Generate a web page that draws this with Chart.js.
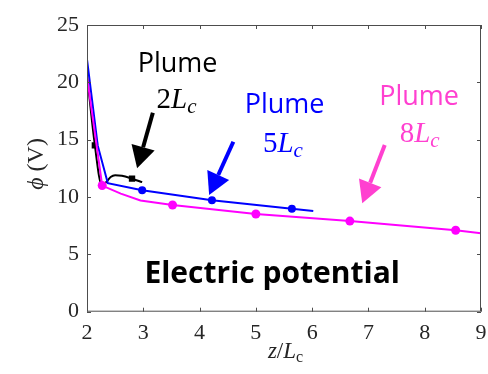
<!DOCTYPE html>
<html>
<head>
  <meta charset="UTF-8">
  <title>Electric potential</title>
  <style>
    body { margin: 0; padding: 0; background: #fff; }
    .chart-container { width: 488px; height: 374px; }
  </style>
  <script src="https://cdn.jsdelivr.net/npm/chart.js"></script>
</head>
<body>
  <div class="chart-container">
    <canvas id="phiChart" width="488" height="374"></canvas>
  </div>

  <script>
    // Plume 2Lc (black)
    const blackZ   = [2.0, 2.14, 2.26, 2.33, 2.42, 2.5, 2.62, 2.8, 2.98];
    const blackPhi = [20.7, 14.5, 11.1, 11.25, 11.75, 11.9, 11.85, 11.6, 11.3];
    const blackMarks = [1, 7];

    // Plume 5Lc (blue)
    const blueZ   = [2.0, 2.19, 2.37, 2.98, 4.22, 5.64, 6.02];
    const bluePhi = [22.0, 14.5, 11.2, 10.6, 9.72, 8.98, 8.78];
    const blueMarks = [3, 4, 5];

    // Plume 8Lc (magenta)
    const pinkZ   = [2.0, 2.27, 2.6, 2.95, 3.52, 5.0, 6.67, 8.55, 9.0];
    const pinkPhi = [20.5, 11.0, 10.3, 9.7, 9.3, 8.52, 7.9, 7.1, 6.83];
    const pinkMarks = [1, 4, 5, 6, 7];

    const xTicks = [2, 3, 4, 5, 6, 7, 8, 9];
    const yTicks = [0, 5, 10, 15, 20, 25];

    const serif = "'Liberation Serif', 'DejaVu Serif', serif";
    const sans = "'Open Sans', Lato, sans-serif";
    const pinkText = '#ff40d0';

    function toPoints(xs, ys) {
      return xs.map((x, i) => ({ x: x, y: ys[i] }));
    }

    function markRadius(marks, r) {
      return ctx => marks.includes(ctx.dataIndex) ? r : 0;
    }

    // labels + arrows, placed in data units
    const notes = [
      { color: '#000', num: '2', word: [3.61, 20.9], math: [3.59, 17.76], from: [3.17, 17.35], to: [2.89, 12.5] },
      { color: '#0000ff', num: '5', word: [5.51, 17.32], math: [5.48, 13.92], from: [4.60, 14.82], to: [4.17, 10.17] },
      { color: pinkText, num: '8', word: [7.90, 18.02], math: [7.91, 14.82], from: [7.29, 14.53], to: [6.89, 9.45] }
    ];

    function drawParts(c, parts, x, y) {
      let w = 0;
      parts.forEach(p => { c.font = p.font; w += c.measureText(p.t).width; });
      let cx = x - w / 2;
      c.textAlign = 'left';
      c.textBaseline = 'alphabetic';
      parts.forEach(p => {
        c.font = p.font;
        c.fillText(p.t, cx, y + (p.dy || 0));
        cx += c.measureText(p.t).width;
      });
    }

    function arrow(c, x1, y1, x2, y2, color) {
      const ang = Math.atan2(y2 - y1, x2 - x1);
      const len = 22, half = 12;
      const bx = x2 - len * Math.cos(ang), by = y2 - len * Math.sin(ang);
      c.strokeStyle = color;
      c.fillStyle = color;
      c.lineWidth = 4;
      c.beginPath();
      c.moveTo(x1, y1);
      c.lineTo(bx, by);
      c.stroke();
      c.beginPath();
      c.moveTo(x2, y2);
      c.lineTo(bx + half * Math.sin(ang), by - half * Math.cos(ang));
      c.lineTo(bx - half * Math.sin(ang), by + half * Math.cos(ang));
      c.closePath();
      c.fill();
    }

    const decor = {
      id: 'decor',
      afterDraw(chart) {
        const c = chart.ctx;
        const a = chart.chartArea;
        const xs = chart.scales.x, ys = chart.scales.y;
        c.save();

        // frame with inward ticks
        c.strokeStyle = '#4d4d4d';
        c.lineWidth = 1;
        c.strokeRect(a.left + 0.5, a.top + 0.5, a.right - a.left - 1, a.bottom - a.top - 1);
        c.beginPath();
        xTicks.forEach(v => {
          const px = Math.round(xs.getPixelForValue(v)) + 0.5;
          c.moveTo(px, a.bottom); c.lineTo(px, a.bottom - 4);
          c.moveTo(px, a.top); c.lineTo(px, a.top + 4);
        });
        yTicks.forEach(v => {
          const py = Math.round(ys.getPixelForValue(v)) + 0.5;
          c.moveTo(a.left, py); c.lineTo(a.left + 4, py);
          c.moveTo(a.right, py); c.lineTo(a.right - 4, py);
        });
        c.stroke();

        // axis titles
        c.fillStyle = '#262626';
        drawParts(c, [
          { t: 'z', font: 'italic 23px ' + serif },
          { t: '/', font: '23px ' + serif },
          { t: 'L', font: 'italic 23px ' + serif },
          { t: 'c', font: '16px ' + serif, dy: 4 }
        ], 285.5, 358);

        c.save();
        c.translate(43, 164);
        c.rotate(-Math.PI / 2);
        drawParts(c, [
          { t: 'ϕ', font: 'italic 24px ' + serif },
          { t: ' (V)', font: '24px ' + serif }
        ], 0, 0);
        c.restore();

        // annotations
        notes.forEach(n => {
          c.fillStyle = n.color;
          c.font = '27px ' + sans;
          c.textAlign = 'center';
          c.textBaseline = 'alphabetic';
          c.fillText('Plume', xs.getPixelForValue(n.word[0]), ys.getPixelForValue(n.word[1]));
          drawParts(c, [
            { t: n.num, font: '29px ' + serif },
            { t: 'L', font: 'italic 29px ' + serif },
            { t: 'c', font: 'italic 21px ' + serif, dy: 5 }
          ], xs.getPixelForValue(n.math[0]), ys.getPixelForValue(n.math[1]));
          arrow(c, xs.getPixelForValue(n.from[0]), ys.getPixelForValue(n.from[1]),
                   xs.getPixelForValue(n.to[0]), ys.getPixelForValue(n.to[1]), n.color);
        });

        c.fillStyle = '#000';
        c.font = 'bold 30px ' + sans;
        c.textAlign = 'center';
        c.fillText('Electric potential', xs.getPixelForValue(5.29), ys.getPixelForValue(2.48));
        c.restore();
      }
    };

    const chart = new Chart(document.getElementById('phiChart'), {
      type: 'scatter',
      data: {
        datasets: [
          {
            label: 'Plume 8Lc',
            data: toPoints(pinkZ, pinkPhi),
            showLine: true,
            borderColor: '#ff00ff',
            backgroundColor: '#ff00ff',
            borderWidth: 2,
            pointRadius: markRadius(pinkMarks, 4.5),
            pointBorderWidth: 0
          },
          {
            label: 'Plume 5Lc',
            data: toPoints(blueZ, bluePhi),
            showLine: true,
            borderColor: '#0000ff',
            backgroundColor: '#0000ff',
            borderWidth: 2,
            pointRadius: markRadius(blueMarks, 4),
            pointBorderWidth: 0
          },
          {
            label: 'Plume 2Lc',
            data: toPoints(blackZ, blackPhi),
            showLine: true,
            borderColor: '#000',
            backgroundColor: '#000',
            borderWidth: 2,
            pointStyle: 'rect',
            pointRadius: markRadius(blackMarks, 4.5),
            pointBorderWidth: 0,
            cubicInterpolationMode: 'monotone',
            tension: 0.3
          }
        ]
      },
      options: {
        responsive: false,
        animation: false,
        devicePixelRatio: 1,
        layout: { padding: { left: 0, right: 7, top: 25, bottom: 0 } },
        plugins: {
          legend: { display: false },
          tooltip: { enabled: false }
        },
        scales: {
          x: {
            type: 'linear',
            min: 2, max: 9,
            afterBuildTicks: s => { s.ticks = xTicks.map(v => ({ value: v })); },
            afterFit: s => { s.height = 62.3; s.paddingLeft = 0; s.paddingRight = 0; },
            grid: { display: false, drawTicks: false },
            border: { display: false },
            ticks: { color: '#262626', padding: 8, font: { family: serif, size: 22 } }
          },
          y: {
            type: 'linear',
            min: 0, max: 25,
            afterBuildTicks: s => { s.ticks = yTicks.map(v => ({ value: v })); },
            afterFit: s => { s.width = 87; s.paddingTop = 0; s.paddingBottom = 0; },
            grid: { display: false, drawTicks: false },
            border: { display: false },
            ticks: { color: '#262626', padding: 8, font: { family: serif, size: 22 } }
          }
        }
      },
      plugins: [decor]
    });
  </script>
</body>
</html>
